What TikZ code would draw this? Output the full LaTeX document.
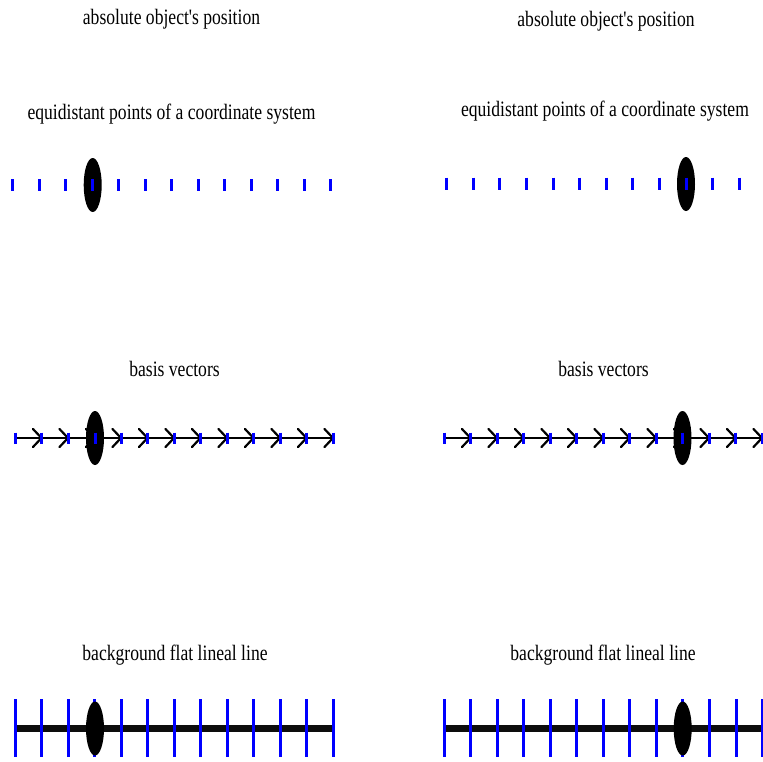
\documentclass[tikz,border=0pt]{standalone}
\usepackage{fontspec}
% a family without the TeX quote mapping, so ' stays a straight apostrophe
\newfontfamily\titlefont{Liberation Serif}
\begin{document}
\begin{tikzpicture}[x=1pt,y=-1pt,
  title/.style={anchor=base,inner sep=0pt,font=\titlefont\fontsize{22}{24}\selectfont,xscale=0.8},
  pointtick/.style={draw=blue,line width=3pt},
  basisline/.style={draw=black,line width=2pt},
  chevron/.style={draw=black,line width=2.2pt,line cap=round,line join=round},
  flatline/.style={draw=black!95,line width=7pt},
  gridtick/.style={draw=blue,line width=3pt}]
\useasboundingbox (0,0) rectangle (763,761);

% ---- titles ----
\node[title] (tAL) at (171.5,24) {absolute object's position};
\node[title] (tAR) at (606,26) {absolute object's position};
\node[title] (tEL) at (171.5,119) {equidistant points of a coordinate system};
\node[title] (tER) at (605,116) {equidistant points of a coordinate system};
\node[title] (tBL) at (174.5,376) {basis vectors};
\node[title] (tBR) at (603.5,376) {basis vectors};
\node[title] (tGL) at (175,660) {background flat lineal line};
\node[title] (tGR) at (603,660) {background flat lineal line};

% ---- row 1: equidistant points ----
\foreach \k in {0,...,12}
  \draw[pointtick] ({12.7+26.5*\k},179) -- ({12.7+26.5*\k},191);
\fill (92.7,185) ellipse [x radius=9,y radius=27];
\draw[pointtick] (92.7,179) -- (92.7,191);

\foreach \k in {0,...,11}
  \draw[pointtick] ({446.7+26.6*\k},177.5) -- ({446.7+26.6*\k},189.5);
\fill (686,184) ellipse [x radius=9,y radius=27];
\draw[pointtick] (686,177.5) -- (686,189.5);

% ---- row 2: basis vectors ----
\draw[basisline] (15,438) -- (333,438);
\foreach \k in {1,...,12}
  \draw[chevron] ({15+26.5*\k-8.5},429) -- ({15+26.5*\k},438) -- ({15+26.5*\k-8.5},447);
\foreach \k in {0,...,12}
  \draw[pointtick] ({15+26.5*\k},432.5) -- ({15+26.5*\k},443.5);
\fill (95,438) ellipse [x radius=9,y radius=27];
\draw[pointtick] (95,432.5) -- (95,443.5);

\draw[basisline] (444,438) -- (763,438);
\foreach \k in {1,...,12}
  \draw[chevron] ({444+26.5*\k-8.5},429) -- ({444+26.5*\k},438) -- ({444+26.5*\k-8.5},447);
\foreach \k in {0,...,12}
  \draw[pointtick] ({444+26.5*\k},432.5) -- ({444+26.5*\k},443.5);
\fill (682.5,438) ellipse [x radius=9,y radius=27];
\draw[pointtick] (682.5,432.5) -- (682.5,443.5);

% ---- row 3: background flat line ----
\draw[flatline] (15,728) -- (333,728);
\foreach \k in {0,...,12}
  \draw[gridtick] ({15+26.5*\k},699) -- ({15+26.5*\k},757);
\fill (95,728.5) ellipse [x radius=9,y radius=27];

\draw[flatline] (444,728) -- (763,728);
\foreach \k in {0,...,12}
  \draw[gridtick] ({444+26.55*\k},699) -- ({444+26.55*\k},757);
\fill (682.7,728.5) ellipse [x radius=9,y radius=27];
\end{tikzpicture}
\end{document}
